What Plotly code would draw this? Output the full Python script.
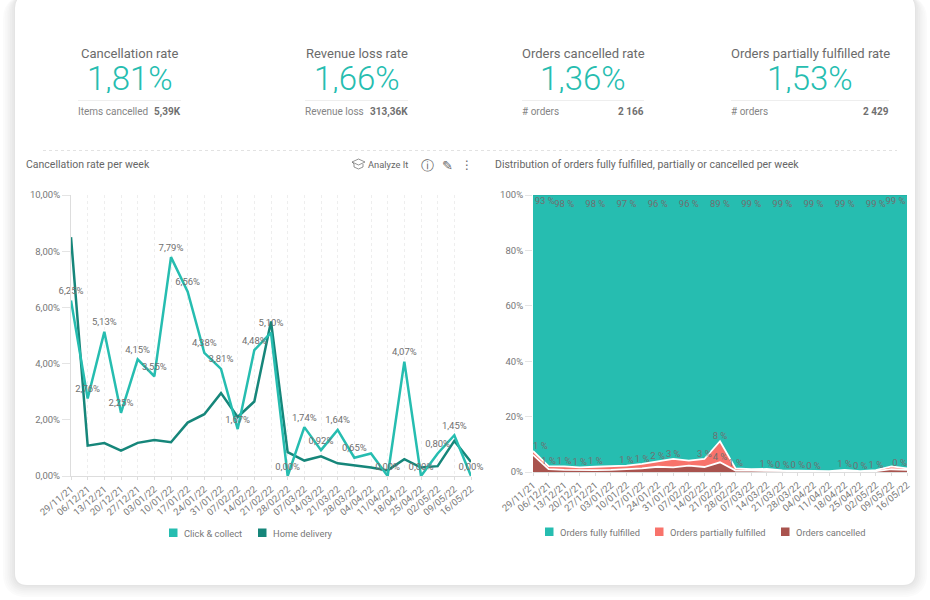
import plotly.graph_objects as go

# weekly data
weeks = ["29/11/21", "06/12/21", "13/12/21", "20/12/21", "27/12/21", "03/01/22", "10/01/22",
         "17/01/22", "24/01/22", "31/01/22", "07/02/22", "14/02/22", "21/02/22", "28/02/22",
         "07/03/22", "14/03/22", "21/03/22", "28/03/22", "04/04/22", "11/04/22", "18/04/22",
         "25/04/22", "02/05/22", "09/05/22", "16/05/22"]

click_collect = [6.25, 2.76, 5.13, 2.25, 4.15, 3.55, 7.79, 6.56, 4.38, 3.81, 1.67, 4.48, 5.10,
                 0.00, 1.74, 0.92, 1.64, 0.65, 0.80, 0.00, 4.07, 0.00, 0.80, 1.45, 0.00]
home_delivery = [8.50, 1.08, 1.17, 0.90, 1.18, 1.28, 1.20, 1.90, 2.20, 2.95, 2.10, 2.65, 5.50,
                 0.85, 0.55, 0.70, 0.45, 0.38, 0.30, 0.20, 0.60, 0.30, 0.35, 1.25, 0.50]
click_labels = ["6,25%", "2,76%", "5,13%", "2,25%", "4,15%", "3,55%", "7,79%", "6,56%", "4,38%",
                "3,81%", "1,67%", "4,48%", "5,10%", "0,00%", "1,74%", "0,92%", "1,64%", "0,65%",
                "", "0,00%", "4,07%", "0,00%", "0,80%", "1,45%", "0,00%"]

cancelled = [6.2, 1.0, 0.8, 0.7, 0.7, 0.8, 1.0, 1.3, 1.9, 1.7, 2.3, 1.8, 3.5,
             0.5, 0.5, 0.4, 0.3, 0.25, 0.2, 0.15, 0.2, 0.1, 0.3, 1.0, 0.8]
partial = [1.4, 1.1, 1.2, 1.0, 1.2, 1.3, 1.3, 1.6, 1.9, 3.0, 1.8, 2.9, 7.6,
           0.8, 0.5, 0.7, 0.3, 0.25, 0.2, 0.15, 0.6, 0.2, 0.4, 1.0, 0.5]
fulfilled = [92.4, 97.9, 98.0, 98.3, 98.1, 97.9, 97.7, 97.1, 96.2, 95.3, 95.9, 95.3, 88.9,
             98.7, 99.0, 98.9, 99.4, 99.5, 99.6, 99.7, 99.2, 99.7, 99.3, 98.0, 98.7]
fulfilled_labels = ["93 %", "", "98 %", "", "98 %", "", "97 %", "", "96 %", "", "96 %", "", "89 %",
                    "", "99 %", "", "99 %", "", "99 %", "", "99 %", "", "99 %", "", "99 %"]
partial_labels = ["1 %", "1 %", "1 %", "1 %", "1 %", "", "1 %", "1 %", "2 %", "3 %", "", "3 %", "8 %",
                  "1 %", "", "1 %", "0 %", "0 %", "0 %", "", "1 %", "0 %", "1 %", "", "0 %"]
cancelled_labels = ["", "", "", "", "", "", "", "", "", "", "", "", "4 %",
                    "", "", "", "", "", "", "", "", "", "", "", ""]

left_ticks = [0, 2, 4, 6, 8, 10]
left_ticktext = ["0,00%", "2,00%", "4,00%", "6,00%", "8,00%", "10,00%"]
right_ticks = [0, 20, 40, 60, 80, 100]
right_ticktext = ["0%", "20%", "40%", "60%", "80%", "100%"]

kpi_titles = ["Cancellation rate", "Revenue loss rate", "Orders cancelled rate", "Orders partially fulfilled rate"]
kpi_values = ["1,81%", "1,66%", "1,36%", "1,53%"]
kpi_sub_names = ["Items cancelled", "Revenue loss", "# orders", "# orders"]
kpi_sub_values = ["5,39K", "313,36K", "2 166", "2 429"]
kpi_left = [78, 305, 522, 731]
kpi_right = [181, 408, 644, 889]

TEAL = "#26bdb0"
DARK = "#16867a"
SALMON = "#f8736b"
BROWN = "#a9534e"
GREY = "#777777"
FONT = "Roboto"
W, H = 930, 600

legend_names = ["Click & collect", "Home delivery", "Orders fully fulfilled", "Orders partially fulfilled",
                "Orders cancelled"]
legend_colors = [TEAL, DARK, TEAL, SALMON, BROWN]
legend_x = [169, 258, 545, 655, 781]
legend_y = [533, 533, 532, 532, 532]


def px(x):
    return x / W


def py(y):
    return 1 - y / H


def text(x, y, s, size=10, color=GREY, anchor="center", family=FONT, weight=None, height=None):
    # annotation boxes have some padding, take it off so the x is where the ink starts
    shift = {"left": -2, "right": 2, "center": 0}[anchor]
    fig.add_annotation(x=px(x + shift), y=py(y), xref="paper", yref="paper", text=s, showarrow=False,
                       xanchor=anchor, yanchor="middle", align=anchor, height=height,
                       font=dict(size=size, color=color, family=family, weight=weight))


def rounded(x0, y0, x1, y1, r):
    return (f"M{px(x0 + r)},{py(y0)} L{px(x1 - r)},{py(y0)} Q{px(x1)},{py(y0)} {px(x1)},{py(y0 + r)} "
            f"L{px(x1)},{py(y1 - r)} Q{px(x1)},{py(y1)} {px(x1 - r)},{py(y1)} "
            f"L{px(x0 + r)},{py(y1)} Q{px(x0)},{py(y1)} {px(x0)},{py(y1 - r)} "
            f"L{px(x0)},{py(y0 + r)} Q{px(x0)},{py(y0)} {px(x0 + r)},{py(y0)} Z")


fig = go.Figure()

# card with a soft shadow behind it
shadow = ["#fbfbfb", "#f8f8f8", "#f5f5f5", "#f1f1f1", "#ededed", "#e9e9e9", "#e4e4e4"]
for i, c in enumerate(shadow):
    grow = 12 - i * 1.8
    fig.add_shape(type="path", path=rounded(15 - grow, -4, 915 + grow, 585 + grow, 12 + grow),
                  xref="paper", yref="paper", fillcolor=c, line_width=0, layer="below")
fig.add_shape(type="path", path=rounded(15, -4, 915, 585, 12), xref="paper", yref="paper",
              fillcolor="white", line_width=0, layer="below")

# left chart
fig.add_trace(go.Scatter(x=weeks, y=home_delivery, mode="lines", name="Home delivery",
                         line=dict(color=DARK, width=2.5), xaxis="x", yaxis="y", showlegend=False,
                         cliponaxis=False))
fig.add_trace(go.Scatter(x=weeks, y=click_collect, mode="lines+markers+text", name="Click & collect",
                         text=click_labels, textposition="top center",
                         textfont=dict(size=9.5, color="#707070", family=FONT),
                         marker=dict(size=5, opacity=0), line=dict(color=TEAL, width=2.5),
                         xaxis="x", yaxis="y", showlegend=False, cliponaxis=False))

# right chart, stacked
edge = ["bottom right"] + ["bottom center"] * 23 + ["bottom left"]
top_edge = ["top right"] + ["top center"] * 23 + ["top left"]
label_gap = [1] + [6] * 23 + [1]  # invisible markers push the labels off the top edge
stack_font = dict(size=9.5, color="#707070", family=FONT)
fig.add_trace(go.Scatter(x=weeks, y=cancelled, stackgroup="orders", mode="lines+text", text=cancelled_labels,
                         name="Orders cancelled", textposition="top center", textfont=stack_font, fillcolor=BROWN,
                         line=dict(color="white", width=1.8), xaxis="x2", yaxis="y2", showlegend=False))
fig.add_trace(go.Scatter(x=weeks, y=partial, stackgroup="orders", mode="lines+text", text=partial_labels,
                         name="Orders partially fulfilled", textposition=top_edge, textfont=stack_font,
                         fillcolor=SALMON, line=dict(color="white", width=1.8), xaxis="x2", yaxis="y2",
                         showlegend=False))
fig.add_trace(go.Scatter(x=weeks, y=fulfilled, stackgroup="orders", mode="lines+markers+text", text=fulfilled_labels,
                         name="Orders fully fulfilled", textposition=edge, textfont=stack_font, fillcolor=TEAL,
                         marker=dict(size=label_gap, opacity=0), line=dict(color="#1fa99d", width=1),
                         xaxis="x2", yaxis="y2", showlegend=False))

# legends, squares sit closer to the text than a plotly legend allows
for name, color, x, y in zip(legend_names, legend_colors, legend_x, legend_y):
    fig.add_shape(type="rect", x0=px(x), x1=px(x + 8.5), y0=py(y - 4.5), y1=py(y + 4), xref="paper", yref="paper",
                  fillcolor=color, line_width=0)
    text(x + 15, y, name, size=9.3, color=GREY, anchor="left")

# KPI block
for i in range(4):
    mid = (kpi_left[i] + kpi_right[i]) / 2
    text(mid, 53, kpi_titles[i], size=13, color="#6b6b6b")
    text(mid, 78, kpi_values[i], size=33, color=TEAL, weight=300, height=30)
    fig.add_shape(type="line", x0=px(kpi_left[i]), x1=px(kpi_right[i]), y0=py(100.5), y1=py(100.5),
                  xref="paper", yref="paper", line=dict(color="#eeeeee", width=1))
    text(kpi_left[i], 112, kpi_sub_names[i], size=10, color="#858585", anchor="left")
    text(kpi_right[i], 112, "<b>" + kpi_sub_values[i] + "</b>", size=10, color="#707070", anchor="right")

fig.add_shape(type="line", x0=px(43), x1=px(897), y0=py(150.5), y1=py(150.5), xref="paper", yref="paper",
              line=dict(color="#e2e2e2", width=1, dash="dot"))

text(26, 164, "Cancellation rate per week", size=10.5, color="#666666", anchor="left")
text(495, 164, "Distribution of orders fully fulfilled, partially or cancelled per week", size=10.5,
     color="#666666", anchor="left")

# toolbar of the left chart
text(368, 164.5, "Analyze It", size=9.3, color="#666666", anchor="left")
cap = [(352, 162), (358.5, 159), (365, 162), (358.5, 165), (352, 162), (354, 164), (354, 167), (358.5, 169),
       (363, 167), (363, 164)]
fig.add_shape(type="path", path="M" + " L".join(f"{px(a)},{py(b)}" for a, b in cap), xref="paper", yref="paper",
              line=dict(color="#777777", width=0.8))
text(427, 165, "ⓘ", size=13, color="#666666", family="DejaVu Sans")
text(447, 165, "✎", size=13, color="#666666", family="DejaVu Sans")
text(467, 165, "⋮", size=12, color="#666666", family="DejaVu Sans")

axis_font = dict(size=9.5, color=GREY, family=FONT)
fig.update_layout(
    width=W, height=H, autosize=False, margin=dict(l=0, r=0, t=0, b=0, autoexpand=False),
    paper_bgcolor="white", plot_bgcolor="rgba(0,0,0,0)", font=dict(family=FONT, color=GREY), showlegend=False,
    xaxis=dict(domain=[px(71), px(471)], type="category", range=[0, 24], tickmode="array", tickvals=weeks,
               tickangle=-40, tickfont=axis_font, showgrid=True, gridcolor="#eeeeee", griddash="dot", gridwidth=1,
               showline=True, linecolor="#dddddd", ticks="outside", ticklen=3, tickcolor="#dddddd",
               anchor="y", zeroline=False),
    yaxis=dict(domain=[py(476), py(195)], range=[0, 10], tickvals=left_ticks, ticktext=left_ticktext,
               tickfont=axis_font, showgrid=False, showline=True, linecolor="#dddddd", ticks="outside",
               ticklen=8, tickcolor="#e4e4e4", anchor="x", zeroline=False),
    xaxis2=dict(domain=[px(533), px(907)], type="category", range=[0, 24], tickmode="array", tickvals=weeks,
                tickangle=-40, tickfont=axis_font, showgrid=False, showline=True, linecolor="#dddddd",
                ticks="outside", ticklen=3, tickcolor="#dddddd", anchor="y2", zeroline=False),
    yaxis2=dict(domain=[py(472), py(195)], range=[0, 100], tickvals=right_ticks, ticktext=right_ticktext,
                tickfont=axis_font, showgrid=False, showline=False, ticks="outside", ticklen=7,
                tickcolor="#e4e4e4", anchor="x2", zeroline=False),
)

fig.write_html("out.html", config={"displayModeBar": False},
               post_script="document.body.style.margin='0';document.body.style.overflow='hidden';")
